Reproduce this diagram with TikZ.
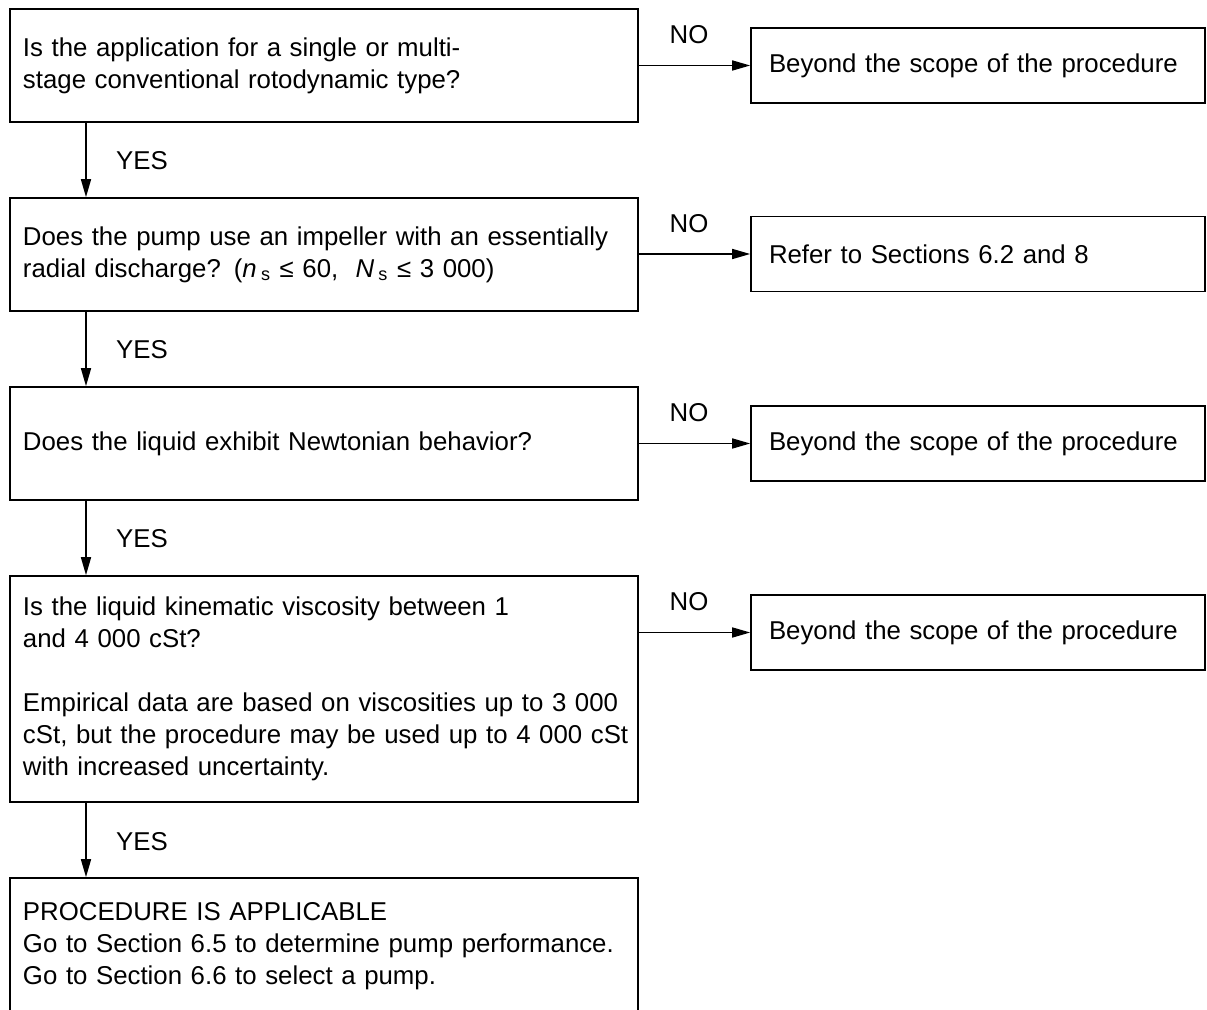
\documentclass[tikz,border=0pt]{standalone}
\usepackage{fontspec}
\setmainfont{Liberation Sans}
\usetikzlibrary{arrows.meta}
\begin{document}
\begin{tikzpicture}[x=0.5pt,y=-0.5pt,
  font=\fontsize{12.9}{16}\selectfont,
  every node/.style={line width=0.8pt},
  qbox/.style={draw, minimum width=314pt, text width=301pt, inner xsep=6.5pt, inner ysep=0pt, align=left},
  nbox/.style={draw, minimum width=227pt, minimum height=37.5pt, text width=209pt, inner xsep=9pt, align=left},
  lab/.style={inner sep=0pt},
  arr/.style={line width=0.8pt, -{Triangle[length=9pt,width=5pt]}}]
\useasboundingbox (0,0) rectangle (1207,1010);
\clip (0,0) rectangle (1207,1010);
\coordinate (vx) at (86,0);
% question boxes
\node[qbox, minimum height=56.5pt] (q1) at (324,65.5) {Is the application for a single or multi-\\stage conventional rotodynamic type?};
\node[qbox, minimum height=56.5pt] (q2) at (324,254.5) {Does the pump use an impeller with an essentially\\radial discharge? ({\itshape n}\,\textsubscript{s} ≤ 60,~~{\itshape N}\,\textsubscript{s} ≤ 3~000)};
\node[qbox, minimum height=56.5pt] (q3) at (324,443.5) {Does the liquid exhibit Newtonian behavior?};
\node[qbox, minimum height=113pt] (q4) at (324,689) {Is the liquid kinematic viscosity between 1\\and 4~000 cSt?\\[16pt]\mbox{Empirical data are based on viscosities up to 3~000}\\\mbox{cSt, but the procedure may be used up to 4~000 cSt}\\with increased uncertainty.};
\node[qbox, minimum height=68pt] (q5) at (324,946) {PROCEDURE IS APPLICABLE\\\mbox{Go to Section 6.5 to determine pump performance.}\\Go to Section 6.6 to select a pump.};
% NO boxes
\node[nbox] (n1) at (978,65.5) {Beyond the scope of the procedure};
\node[nbox] (n2) at (978,254) {Refer to Sections 6.2 and 8};
\node[nbox] (n3) at (978,443.5) {Beyond the scope of the procedure};
\node[nbox] (n4) at (978,632.5) {Beyond the scope of the procedure};
% NO arrows
\draw[arr] (n1.west -| q1.east) -- (n1.west);
\draw[arr] (n2.west -| q2.east) -- (n2.west);
\draw[arr] (n3.west -| q3.east) -- (n3.west);
\draw[arr] (n4.west -| q4.east) -- (n4.west);
\node[lab] (no1) at (689,35) {NO};
\node[lab] (no2) at (689,224) {NO};
\node[lab] (no3) at (689,413) {NO};
\node[lab] (no4) at (689,602) {NO};
% YES arrows
\draw[arr] (q1.south -| vx) -- (q2.north -| vx);
\draw[arr] (q2.south -| vx) -- (q3.north -| vx);
\draw[arr] (q3.south -| vx) -- (q4.north -| vx);
\draw[arr] (q4.south -| vx) -- (q5.north -| vx);
\node[lab] (y1) at (142,161) {YES};
\node[lab] (y2) at (142,350) {YES};
\node[lab] (y3) at (142,539) {YES};
\node[lab] (y4) at (142,842) {YES};
\end{tikzpicture}
\end{document}
